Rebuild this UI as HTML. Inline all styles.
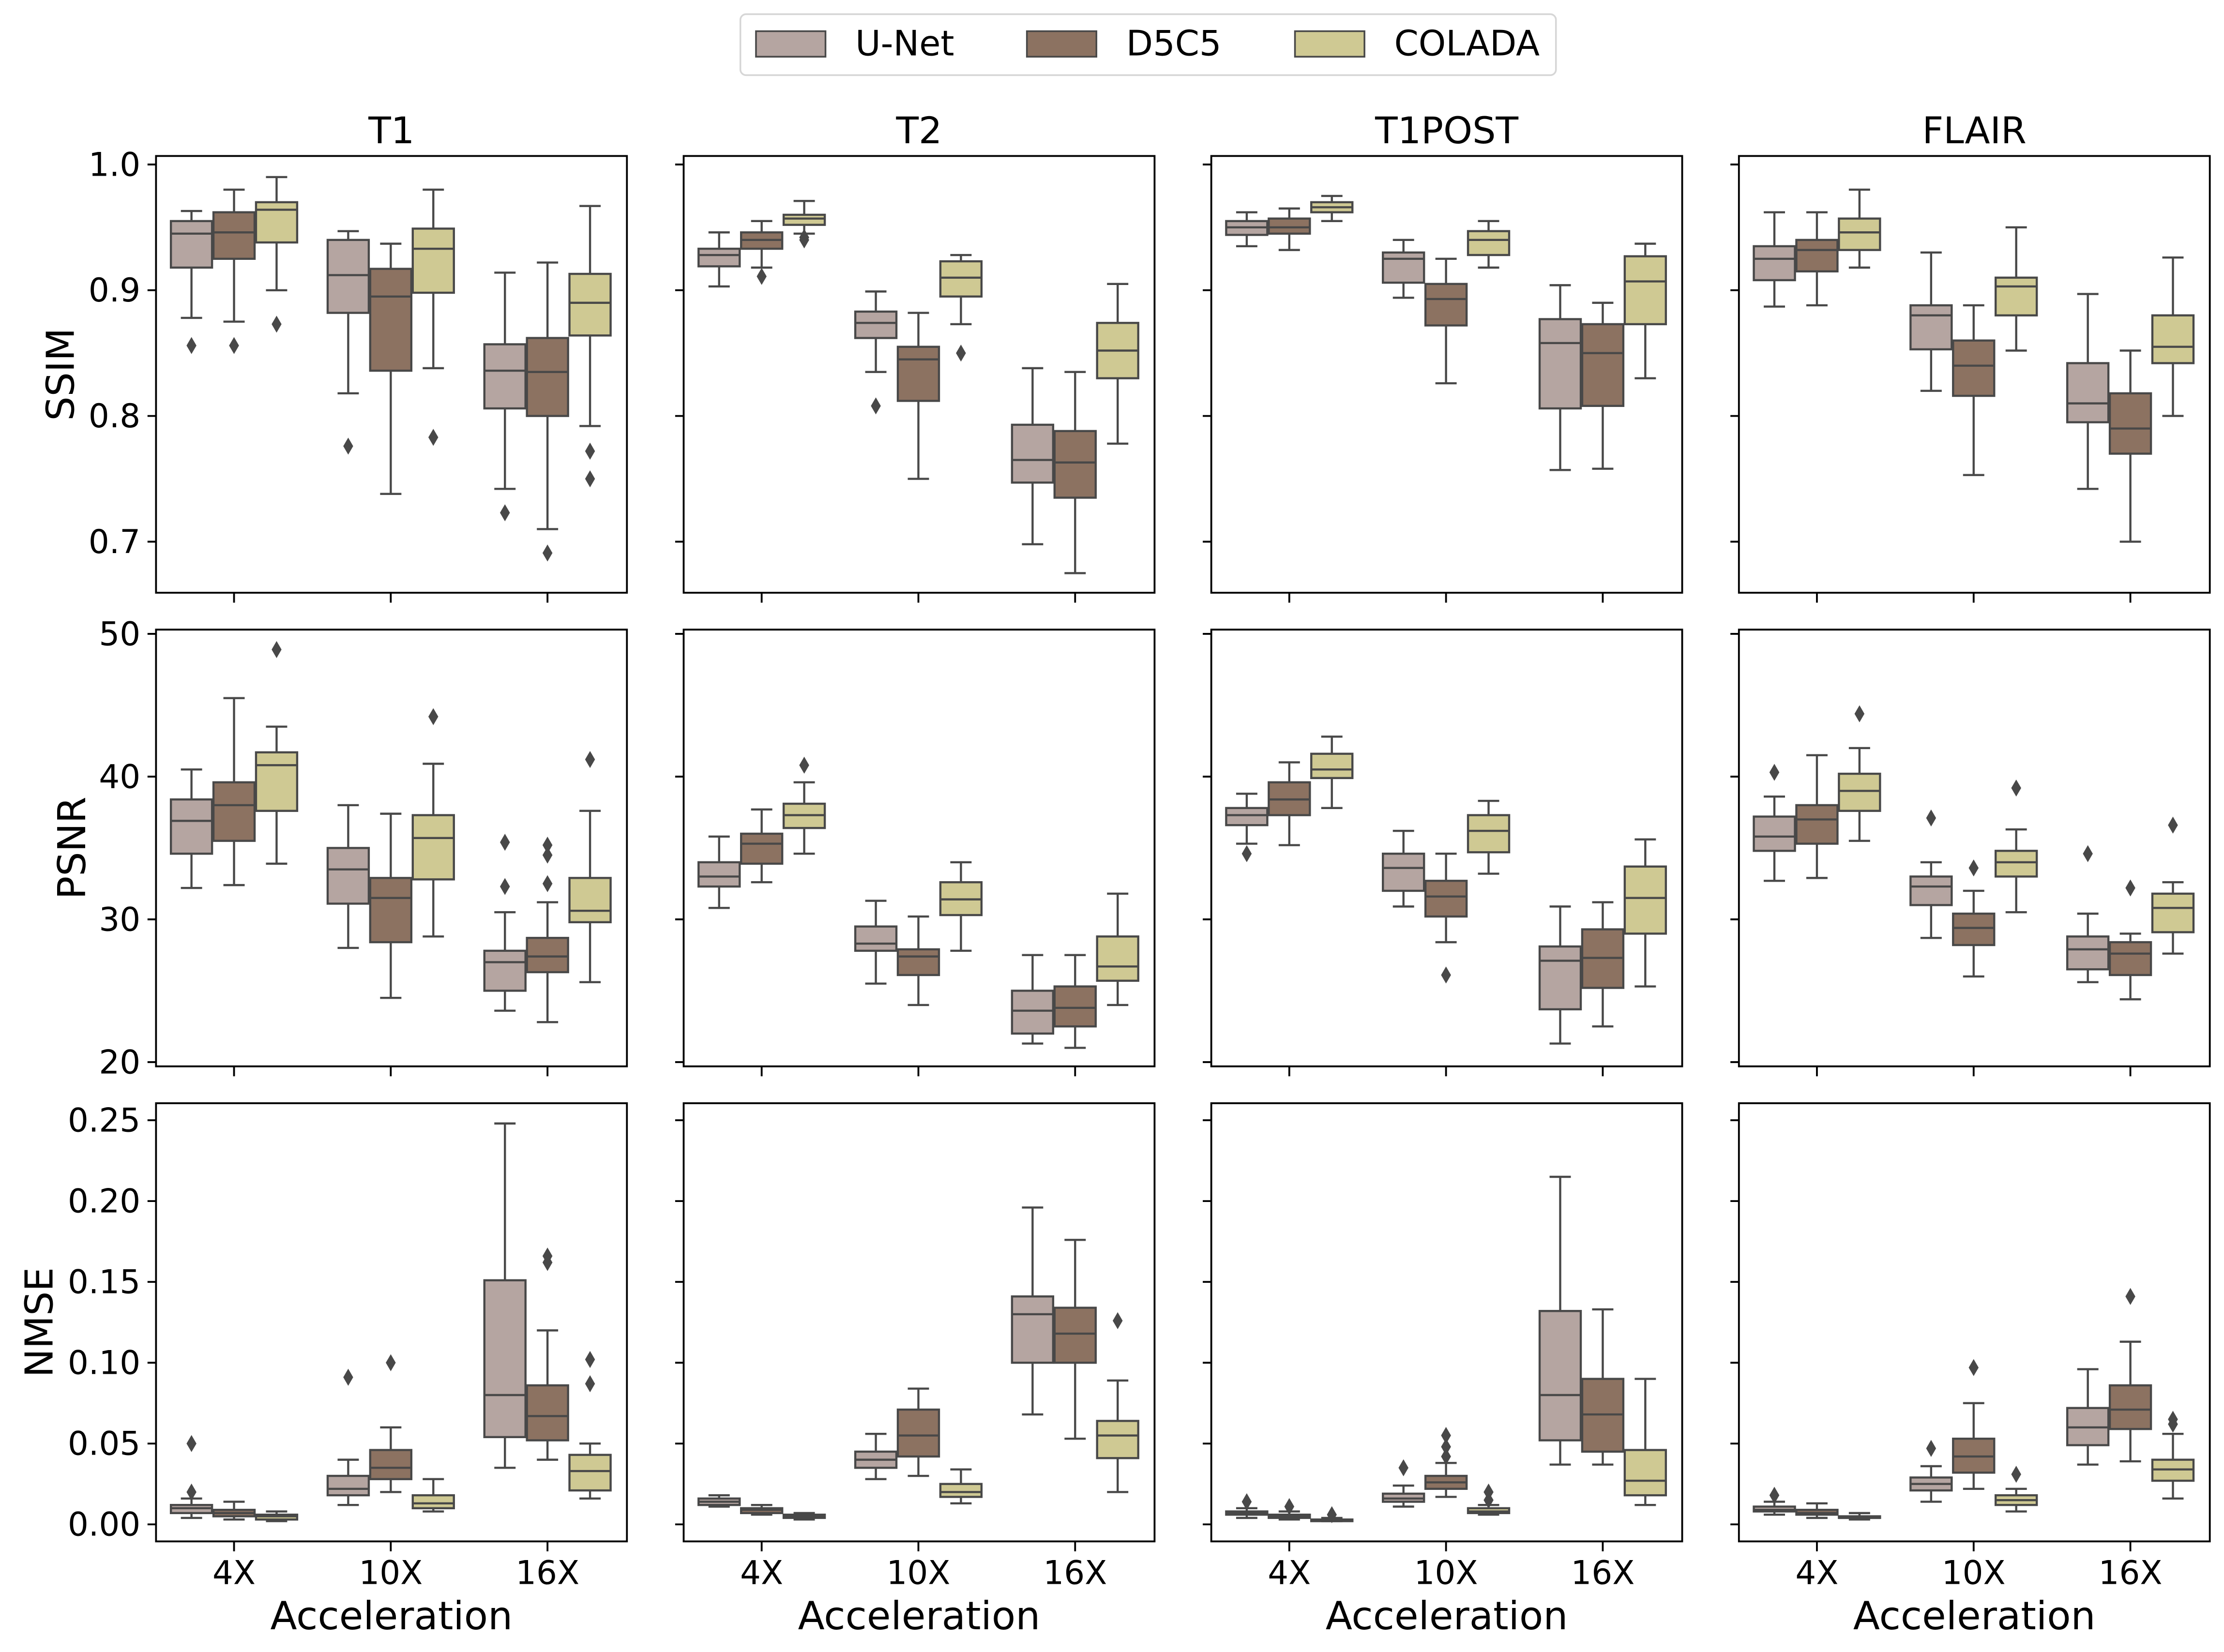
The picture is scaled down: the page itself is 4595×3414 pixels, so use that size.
<!DOCTYPE html>
<html><head><meta charset="utf-8">
<style>
html,body{margin:0;padding:0;background:#fff;}
svg{display:block;}
text{font-family:"DejaVu Sans","Liberation Sans",sans-serif;fill:#000;}
</style></head>
<body>
<svg id="chart" xmlns="http://www.w3.org/2000/svg" width="4595" height="3414" viewBox="0 0 1568 1165"></svg>
<script>
const modalities = ["T1","T2","T1POST","FLAIR"];
const accels = ["4X","10X","16X"];
const methods = ["U-Net","D5C5","COLADA"];
const metricNames = ["SSIM","PSNR","NMSE"];
const ssimTicks = [0.7,0.8,0.9,1.0];
const psnrTicks = [20,30,40,50];
const nmseTicks = [0.00,0.05,0.10,0.15,0.20,0.25];
// each box: [whislo, q1, median, q3, whishi, [outliers]]
const ssimData = [
 [[[0.878,0.918,0.945,0.955,0.963,[0.856]],[0.875,0.925,0.946,0.962,0.980,[0.856]],[0.900,0.938,0.964,0.970,0.990,[0.873]]],
  [[0.818,0.882,0.912,0.940,0.947,[0.776]],[0.738,0.836,0.895,0.917,0.937,[]],[0.838,0.898,0.933,0.949,0.980,[0.783]]],
  [[0.742,0.806,0.836,0.857,0.914,[0.723]],[0.710,0.800,0.835,0.862,0.922,[0.691]],[0.792,0.864,0.890,0.913,0.967,[0.772,0.750]]]],
 [[[0.903,0.919,0.928,0.933,0.946,[]],[0.918,0.933,0.940,0.946,0.955,[0.911]],[0.945,0.952,0.957,0.960,0.971,[0.940,0.942]]],
  [[0.835,0.862,0.874,0.883,0.899,[0.808]],[0.750,0.812,0.845,0.855,0.882,[]],[0.873,0.895,0.910,0.923,0.928,[0.850]]],
  [[0.698,0.747,0.765,0.793,0.838,[]],[0.675,0.735,0.763,0.788,0.835,[]],[0.778,0.830,0.852,0.874,0.905,[]]]],
 [[[0.935,0.944,0.950,0.955,0.962,[]],[0.932,0.945,0.950,0.957,0.965,[]],[0.955,0.962,0.966,0.970,0.975,[]]],
  [[0.894,0.906,0.925,0.930,0.940,[]],[0.826,0.872,0.893,0.905,0.925,[]],[0.918,0.928,0.940,0.947,0.955,[]]],
  [[0.757,0.806,0.858,0.877,0.904,[]],[0.758,0.808,0.850,0.873,0.890,[]],[0.830,0.873,0.907,0.927,0.937,[]]]],
 [[[0.887,0.908,0.925,0.935,0.962,[]],[0.888,0.915,0.932,0.940,0.962,[]],[0.918,0.932,0.946,0.957,0.980,[]]],
  [[0.820,0.853,0.880,0.888,0.930,[]],[0.753,0.816,0.840,0.860,0.888,[]],[0.852,0.880,0.903,0.910,0.950,[]]],
  [[0.742,0.795,0.810,0.842,0.897,[]],[0.700,0.770,0.790,0.818,0.852,[]],[0.800,0.842,0.855,0.880,0.926,[]]]]
];
const psnrData = [
 [[[32.2,34.6,36.9,38.4,40.5,[]],[32.4,35.5,38.0,39.6,45.5,[]],[33.9,37.6,40.8,41.7,43.5,[48.9]]],
  [[28.0,31.1,33.5,35.0,38.0,[]],[24.5,28.4,31.5,32.9,37.4,[]],[28.8,32.8,35.7,37.3,40.9,[44.2]]],
  [[23.6,25.0,27.0,27.8,30.5,[32.3,35.4]],[22.8,26.3,27.4,28.7,31.2,[32.5,34.5,35.2]],[25.6,29.8,30.6,32.9,37.6,[41.2]]]],
 [[[30.8,32.3,33.0,34.0,35.8,[]],[32.6,33.9,35.3,36.0,37.7,[]],[34.6,36.4,37.3,38.1,39.6,[40.8]]],
  [[25.5,27.8,28.3,29.5,31.3,[]],[24.0,26.1,27.4,27.9,30.2,[]],[27.8,30.3,31.4,32.6,34.0,[]]],
  [[21.3,22.0,23.6,25.0,27.5,[]],[21.0,22.5,23.8,25.3,27.5,[]],[24.0,25.7,26.7,28.8,31.8,[]]]],
 [[[35.3,36.6,37.3,37.8,38.8,[34.6]],[35.2,37.3,38.4,39.6,41.0,[]],[37.8,39.9,40.5,41.6,42.8,[]]],
  [[30.9,32.0,33.6,34.6,36.2,[]],[28.4,30.2,31.6,32.7,34.6,[26.1]],[33.2,34.7,36.2,37.3,38.3,[]]],
  [[21.3,23.7,27.1,28.1,30.9,[]],[22.5,25.2,27.3,29.3,31.2,[]],[25.3,29.0,31.5,33.7,35.6,[]]]],
 [[[32.7,34.8,35.8,37.2,38.6,[40.3]],[32.9,35.3,37.0,38.0,41.5,[]],[35.5,37.6,39.0,40.2,42.0,[44.4]]],
  [[28.7,31.0,32.3,33.0,34.0,[37.1]],[26.0,28.2,29.4,30.4,32.0,[33.6]],[30.5,33.0,34.0,34.8,36.3,[39.2]]],
  [[25.6,26.5,27.9,28.8,30.4,[34.6]],[24.4,26.1,27.6,28.4,29.0,[32.2]],[27.6,29.1,30.8,31.8,32.6,[36.6]]]]
];
const nmseData = [
 [[[0.004,0.007,0.010,0.012,0.016,[0.020,0.050]],[0.003,0.005,0.007,0.009,0.014,[]],[0.002,0.003,0.005,0.006,0.008,[]]],
  [[0.012,0.018,0.022,0.030,0.040,[0.091]],[0.020,0.028,0.035,0.046,0.060,[0.100]],[0.008,0.010,0.013,0.018,0.028,[]]],
  [[0.035,0.054,0.080,0.151,0.248,[]],[0.040,0.052,0.067,0.086,0.120,[0.162,0.166]],[0.016,0.021,0.033,0.043,0.050,[0.087,0.102]]]],
 [[[0.011,0.012,0.014,0.016,0.018,[]],[0.006,0.007,0.009,0.010,0.012,[]],[0.003,0.004,0.005,0.006,0.007,[]]],
  [[0.028,0.035,0.040,0.045,0.056,[]],[0.030,0.042,0.055,0.071,0.084,[]],[0.013,0.017,0.020,0.025,0.034,[]]],
  [[0.068,0.100,0.130,0.141,0.196,[]],[0.053,0.100,0.118,0.134,0.176,[]],[0.020,0.041,0.055,0.064,0.089,[0.126]]]],
 [[[0.004,0.006,0.007,0.008,0.010,[0.014]],[0.003,0.004,0.005,0.006,0.008,[0.011]],[0.002,0.002,0.003,0.003,0.004,[0.006]]],
  [[0.011,0.014,0.016,0.019,0.024,[0.035]],[0.017,0.022,0.026,0.030,0.038,[0.042,0.048,0.055]],[0.006,0.007,0.008,0.010,0.012,[0.015,0.020]]],
  [[0.037,0.052,0.080,0.132,0.215,[]],[0.037,0.045,0.068,0.090,0.133,[]],[0.012,0.018,0.027,0.046,0.090,[]]]],
 [[[0.006,0.008,0.009,0.011,0.014,[0.018]],[0.004,0.006,0.007,0.009,0.013,[]],[0.003,0.004,0.004,0.005,0.007,[]]],
  [[0.014,0.021,0.025,0.029,0.036,[0.047]],[0.022,0.032,0.042,0.053,0.075,[0.097]],[0.008,0.012,0.015,0.018,0.022,[0.031]]],
  [[0.037,0.049,0.060,0.072,0.096,[]],[0.039,0.059,0.071,0.086,0.113,[0.141]],[0.016,0.027,0.034,0.040,0.056,[0.062,0.065]]]]
];

const colors = ["#b5a5a1","#8c7261","#cfc993"];
const lineC = "#484848";
const svg = document.getElementById('chart');
const NS = "http://www.w3.org/2000/svg";
function mk(tag, attrs, parent){
  const e = document.createElementNS(NS, tag);
  for (const k in attrs) e.setAttribute(k, attrs[k]);
  (parent||svg).appendChild(e);
  return e;
}
const colX = [110,482,854,1226];
const panelW = 332;
const rowY = [[110,418],[444,752],[778,1087]];
const ylabX = [52,60,37];
const cal = [[1.0,116,0.7,382],[50,447,20,749],[0.25,790,0.0,1075]];
const allData = [ssimData, psnrData, nmseData];
const allTicks = [ssimTicks, psnrTicks, nmseTicks];
const tickFmt = [v=>v.toFixed(1), v=>String(v), v=>v.toFixed(2)];

const lg = mk('g',{});


mk('rect',{x:522,y:10,width:575,height:43,rx:4,fill:'#fff',stroke:'#d6d6d6','stroke-width':1.2},lg);
const legX = [533,724,913];
methods.forEach((m,i)=>{
  const g = mk('g',{},lg);
  
  
  mk('rect',{x:legX[i],y:22,width:49,height:18,fill:colors[i],stroke:lineC,'stroke-width':1.2},g);
  const t = mk('text',{x:legX[i]+70,y:39,'font-size':24.5},g);
  t.textContent = m;
});

for (let r=0;r<3;r++){
  const [v0,y0,v1,y1] = cal[r];
  const yS = v => y0 + (v - v0)*(y1-y0)/(v1-v0);
  for (let c=0;c<4;c++){
    const px = colX[c], top=rowY[r][0], bot=rowY[r][1];
    const g = mk('g',{});
    
    
    const xS = i => px + 55 + i*110.5;
    if (r===0){
      const t = mk('text',{x:px+panelW/2,y:101,'text-anchor':'middle','font-size':26},g);
      
      
      t.textContent = modalities[c];
    }
    allTicks[r].forEach(tv=>{
      const ty = yS(tv);
      mk('line',{x1:px-6,x2:px,y1:ty,y2:ty,stroke:'#000','stroke-width':1.3},g);
      if (c===0){
        const t = mk('text',{x:px-11,y:ty+8,'text-anchor':'end','font-size':23},g);
        
        
        t.textContent = tickFmt[r](tv);
      }
    });
    accels.forEach((a,i)=>{
      mk('line',{x1:xS(i),x2:xS(i),y1:bot,y2:bot+7,stroke:'#000','stroke-width':1.3},g);
      if (r===2){
        const t = mk('text',{x:xS(i),y:1117,'text-anchor':'middle','font-size':23},g);
        
        
        t.textContent = a;
      }
    });
    allData[r][c].forEach((grp,gi)=>{
      grp.forEach((b,mi)=>{
        const cx = xS(gi) + (mi-1)*30;
        const bw = 30;
        const bg = mk('g',{},g);
        
        
        const [lo,q1,med,q3,hi,outs] = b;
        mk('line',{x1:cx,x2:cx,y1:yS(hi),y2:yS(q3),stroke:lineC,'stroke-width':1.5},bg);
        mk('line',{x1:cx,x2:cx,y1:yS(q1),y2:yS(lo),stroke:lineC,'stroke-width':1.5},bg);
        mk('line',{x1:cx-7.5,x2:cx+7.5,y1:yS(hi),y2:yS(hi),stroke:lineC,'stroke-width':1.5},bg);
        mk('line',{x1:cx-7.5,x2:cx+7.5,y1:yS(lo),y2:yS(lo),stroke:lineC,'stroke-width':1.5},bg);
        mk('rect',{x:cx-bw/2+0.5,y:yS(q3),width:bw-1,height:Math.max(0.5,yS(q1)-yS(q3)),fill:colors[mi],stroke:lineC,'stroke-width':1.5},bg);
        mk('line',{x1:cx-bw/2+0.5,x2:cx+bw/2-0.5,y1:yS(med),y2:yS(med),stroke:lineC,'stroke-width':1.5},bg);
        outs.forEach(o=>{
          const oy = yS(o);
          const d = mk('path',{d:`M${cx} ${oy-6}L${cx+3.5} ${oy}L${cx} ${oy+6}L${cx-3.5} ${oy}Z`,fill:lineC},bg);
          
          
        });
      });
    });
    const fr = mk('rect',{x:px,y:top,width:panelW,height:bot-top,fill:'none',stroke:'#000','stroke-width':1.3},g);
    
    
  }
  const yl = mk('text',{x:0,y:0,'text-anchor':'middle','font-size':27,transform:`translate(${ylabX[r]},${(rowY[r][0]+rowY[r][1])/2}) rotate(-90)`});
  
  
  yl.textContent = metricNames[r];
}
colX.forEach((px,c)=>{
  const t = mk('text',{x:px+panelW/2,y:1149,'text-anchor':'middle','font-size':27.5});
  
  
  t.textContent = 'Acceleration';
});
</script>
</body></html>
